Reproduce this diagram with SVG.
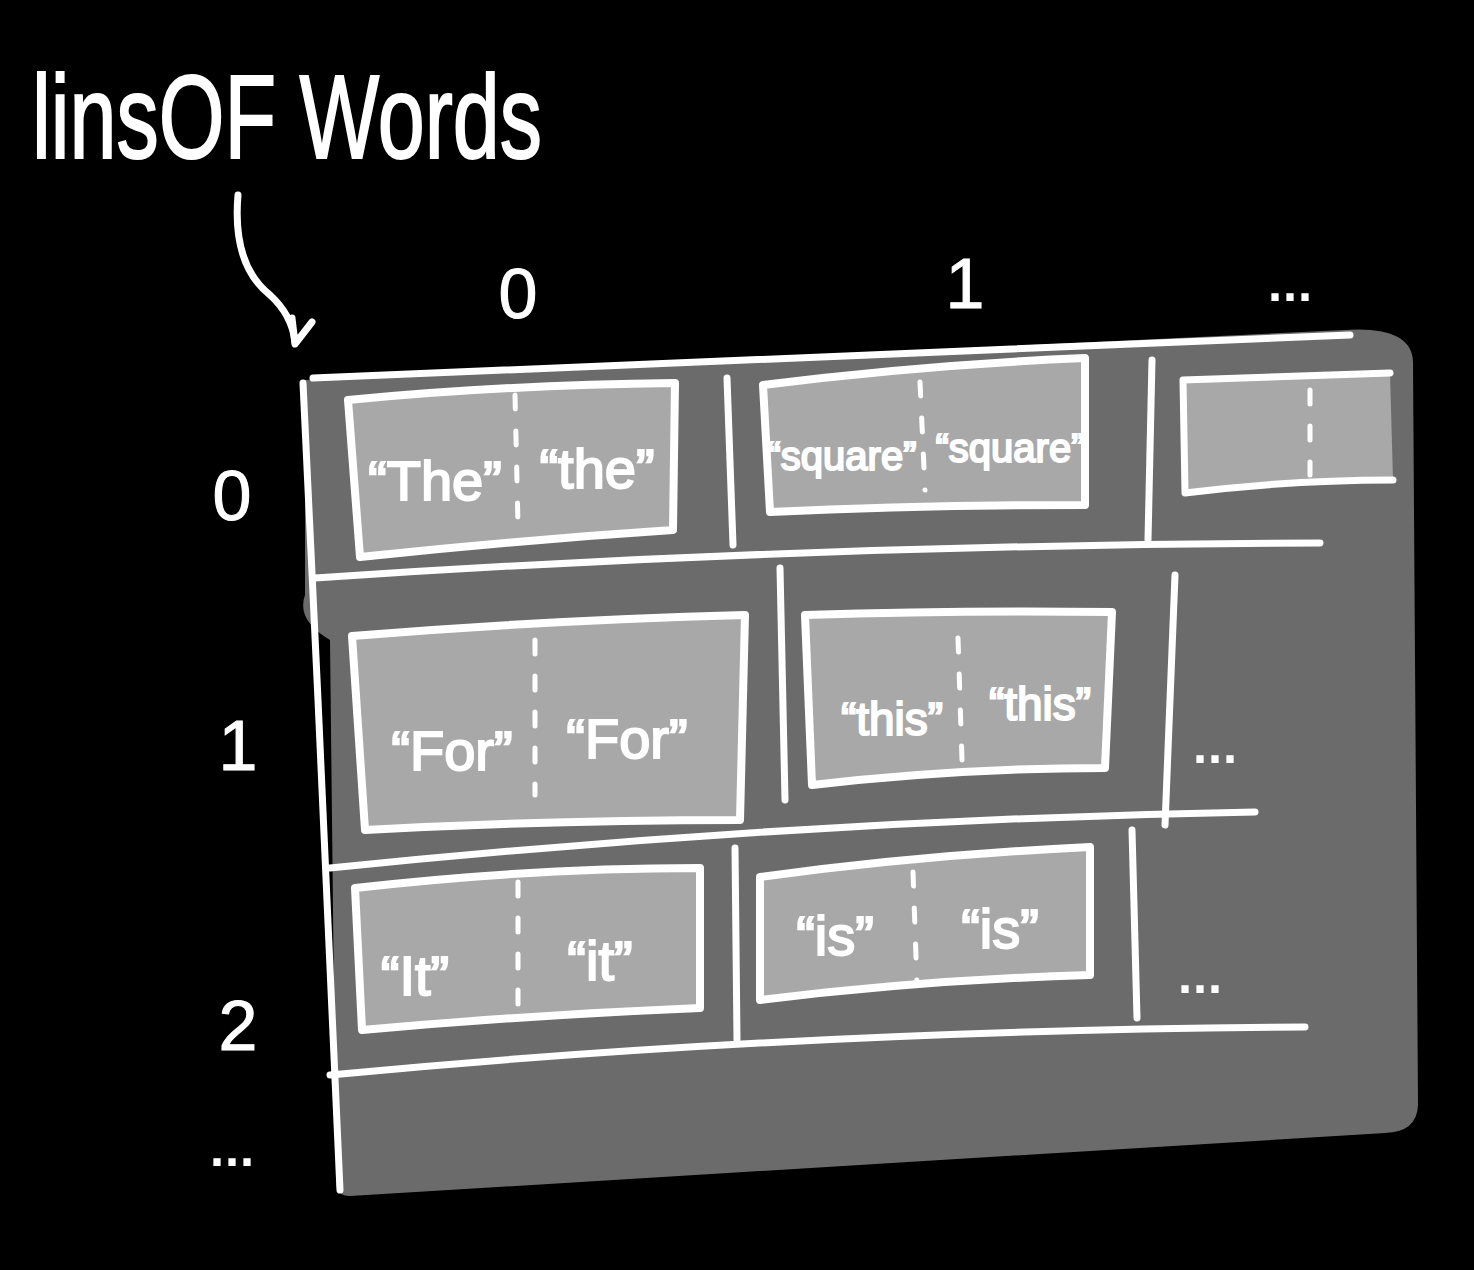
<svg xmlns="http://www.w3.org/2000/svg" width="1474" height="1270" viewBox="0 0 1474 1270">
<style>
.ln{fill:none;stroke:#fff;stroke-width:7;stroke-linecap:round;stroke-linejoin:round}
.cell{fill:#a8a8a8;stroke:#fff;stroke-width:8;stroke-linejoin:round}
.dash{fill:none;stroke:#fff;stroke-width:5;stroke-linecap:round;stroke-dasharray:14 22}
.t{fill:#fff;stroke:#fff;stroke-width:2;font-family:"Liberation Sans","DejaVu Sans",sans-serif}
.w{font-size:56px}
.idx{font-size:70px;stroke-width:1}
.dots{font-size:54px}
</style>
<rect width="1474" height="1270" fill="#000"/>
<g id="title"><text class="t" x="32" y="158" font-size="118" stroke-width="3" textLength="510" lengthAdjust="spacingAndGlyphs">linsOF Words</text></g>
<g id="grid">
<path d="M305 380 L1345 330 Q1412 326 1413 362 L1418 1105 Q1417 1132 1385 1133 L350 1196 Q335 1196 336 1180 L330 640 Q296 620 305 595 Z" fill="#6b6b6b"/>
</g>
<g id="connectors">
<path class="ln" d="M238 195 Q232 265 270 295 Q292 315 295 342"/>
<path class="ln" d="M292 318 L295 344 L312 322"/>
<path class="ln" d="M313 378 L1350 335"/>
<path class="ln" d="M303 383 L318 700 L340 1190"/>
<path class="ln" d="M315 578 Q800 545 1320 543"/>
<path class="ln" d="M330 868 Q800 820 1255 812"/>
<path class="ln" d="M330 1075 Q800 1030 1305 1027"/>
<path class="ln" d="M727 378 L733 545"/>
<path class="ln" d="M1152 360 L1148 540"/>
<path class="ln" d="M780 568 L785 800"/>
<path class="ln" d="M1175 575 L1165 825"/>
<path class="ln" d="M735 848 L737 1040"/>
<path class="ln" d="M1132 830 L1137 1018"/>
</g>
<g id="col-0"><text class="t idx" x="518" y="318" text-anchor="middle">0</text></g>
<g id="col-1"><text class="t idx" x="965" y="308" text-anchor="middle">1</text></g>
<g id="col-more"><text class="t dots" x="1290" y="300" text-anchor="middle">...</text></g>
<g id="row-0"><text class="t idx" x="232" y="520" text-anchor="middle">0</text></g>
<g id="row-1"><text class="t idx" x="238" y="770" text-anchor="middle">1</text></g>
<g id="row-2"><text class="t idx" x="238" y="1050" text-anchor="middle">2</text></g>
<g id="row-more"><text class="t dots" x="232" y="1165" text-anchor="middle">...</text></g>
<g id="r0c0">
<path class="cell" d="M348 400 Q500 385 675 383 L673 530 Q520 540 360 557 Z"/>
<path class="dash" d="M515 395 L518 525"/>
<text class="t w" x="435" y="500" text-anchor="middle">“The”</text>
<text class="t w" x="597" y="488" text-anchor="middle">“the”</text>
</g>
<g id="r0c1">
<path class="cell" d="M763 385 Q920 365 1085 358 L1085 505 Q920 505 770 512 Z"/>
<path class="dash" d="M920 382 L925 490"/>
<text class="t" x="842" y="470" font-size="40" text-anchor="middle">“square”</text>
<text class="t" x="1010" y="462" font-size="40" text-anchor="middle">“square”</text>
</g>
<g id="r0c2">
<path d="M1183 380 L1390 373 L1393 480 L1185 492 Z" fill="#a8a8a8"/>
<path class="ln" d="M1390 373 L1183 380 L1185 493 Q1290 480 1393 480"/>
<path class="dash" d="M1310 390 L1310 475"/>
</g>
<g id="r1c0">
<path class="cell" d="M352 636 Q550 620 745 615 L740 820 Q550 820 365 830 Z"/>
<path class="dash" d="M535 640 L535 795"/>
<text class="t w" x="452" y="770" text-anchor="middle">“For”</text>
<text class="t w" x="627" y="758" text-anchor="middle">“For”</text>
</g>
<g id="r1c1">
<path class="cell" d="M805 615 Q960 610 1112 612 L1105 768 Q960 768 812 785 Z"/>
<path class="dash" d="M958 638 L962 760"/>
<text class="t" x="892" y="735" font-size="46" text-anchor="middle">“this”</text>
<text class="t" x="1040" y="720" font-size="46" text-anchor="middle">“this”</text>
</g>
<g id="r1c2"><text class="t dots" x="1215" y="762" text-anchor="middle">...</text></g>
<g id="r2c0">
<path class="cell" d="M355 888 Q530 868 700 868 L700 1008 Q530 1015 362 1030 Z"/>
<path class="dash" d="M518 882 L518 1015"/>
<text class="t w" x="415" y="995" text-anchor="middle">“It”</text>
<text class="t w" x="600" y="980" text-anchor="middle">“it”</text>
</g>
<g id="r2c1">
<path class="cell" d="M760 877 Q920 855 1090 847 L1090 975 Q920 980 760 1000 Z"/>
<path class="dash" d="M913 872 L917 985"/>
<text class="t w" x="835" y="955" text-anchor="middle">“is”</text>
<text class="t w" x="1000" y="948" text-anchor="middle">“is”</text>
</g>
<g id="r2c2"><text class="t dots" x="1200" y="992" text-anchor="middle">...</text></g>
</svg>
